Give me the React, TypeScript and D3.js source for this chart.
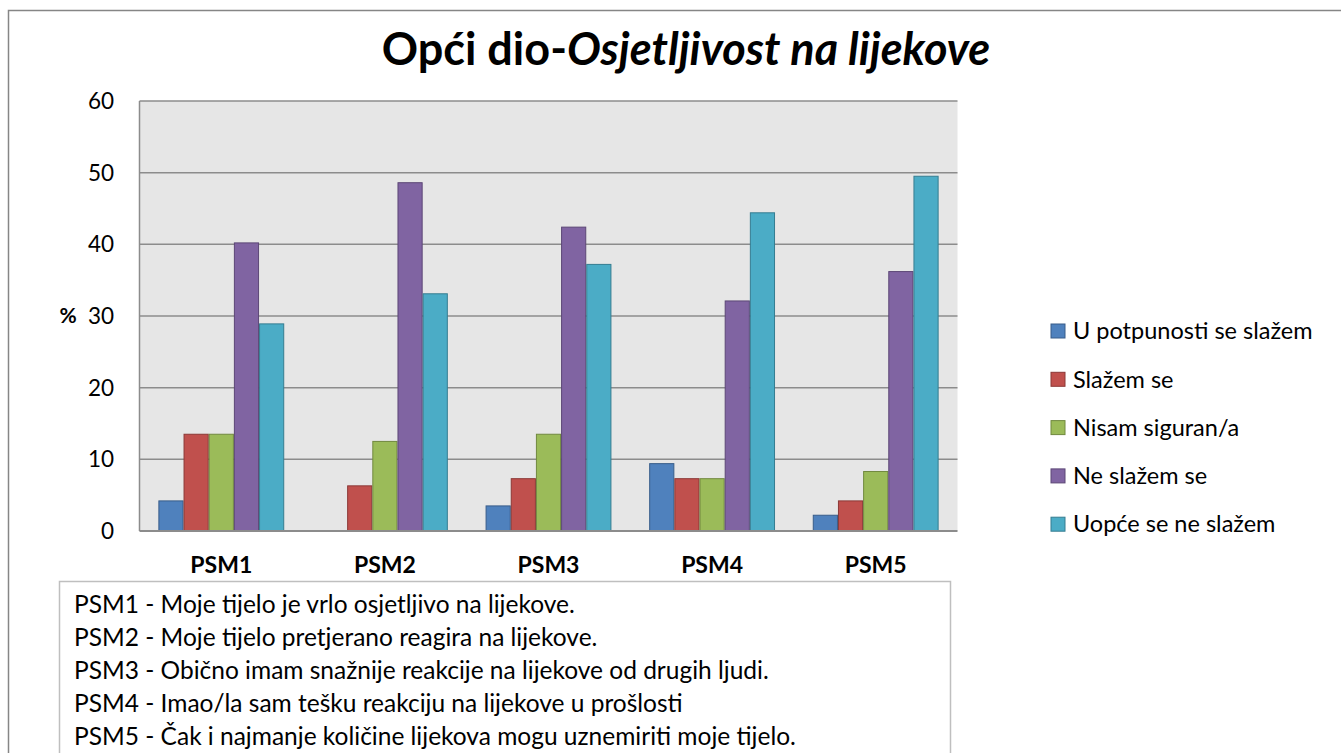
import React from "react";
import * as d3 from "d3";

const categories = ["PSM1", "PSM2", "PSM3", "PSM4", "PSM5"];
const seriesNames = [
  "U potpunosti se slažem",
  "Slažem se",
  "Nisam siguran/a",
  "Ne slažem se",
  "Uopće se ne slažem",
];
const uPotpunosti = [4.2, 0, 3.5, 9.4, 2.2];
const slazem = [13.5, 6.3, 7.3, 7.3, 4.2];
const nisam = [13.5, 12.5, 13.5, 7.3, 8.3];
const neSlazem = [40.2, 48.6, 42.4, 32.1, 36.2];
const uopce = [28.9, 33.1, 37.2, 44.4, 49.5];
const seriesValues = [uPotpunosti, slazem, nisam, neSlazem, uopce];
const yTicks = [0, 10, 20, 30, 40, 50, 60];
const descriptions = [
  "PSM1 - Moje tijelo je vrlo osjetljivo na lijekove.",
  "PSM2 - Moje tijelo pretjerano reagira na lijekove.",
  "PSM3 - Obično imam snažnije reakcije na lijekove od drugih ljudi.",
  "PSM4 - Imao/la sam tešku reakciju na lijekove u prošlosti",
  "PSM5 - Čak i najmanje količine lijekova mogu uznemiriti moje tijelo.",
];

const fills = ["#4F81BD", "#C0504D", "#9BBB59", "#8064A2", "#4BACC6"];
const strokes = ["#385D8A", "#8C3836", "#71893F", "#5C4776", "#357D91"];

const W = 1341;
const H = 753;
const plot = { left: 139.5, right: 957.5, top: 101, bottom: 531 };
const FONT = "Lato, 'Open Sans', sans-serif";

export default function App() {
  const x0 = d3
    .scaleBand<string>()
    .domain(categories)
    .range([plot.left, plot.right])
    .paddingInner(0)
    .paddingOuter(0);
  const x1 = d3
    .scaleBand<string>()
    .domain(seriesNames)
    .range([0, x0.bandwidth()])
    .paddingInner(0)
    .paddingOuter(0.75);
  const y = d3.scaleLinear().domain([0, 60]).range([plot.bottom, plot.top]);

  return (
    <svg
      width={W}
      height={H}
      style={{ position: "absolute", left: 0, top: 0, display: "block", background: "#fff" }}
      fontFamily={FONT}
    >
      <rect x={8.5} y={10.5} width={W + 20} height={H + 20} fill="#fff" stroke="#868686" strokeWidth={1.5} />
      <text x={686} y={65} textAnchor="middle" fontSize={45} fontWeight="bold" fill="#000">
        Opći dio-<tspan fontStyle="italic">Osjetljivost na lijekove</tspan>
      </text>

      <rect
        x={plot.left}
        y={plot.top}
        width={plot.right - plot.left}
        height={plot.bottom - plot.top}
        fill="#E6E6E6"
      />
      {yTicks.map((t) => (
        <g key={t}>
          {t > 0 && (
            <line x1={plot.left} x2={plot.right} y1={y(t)} y2={y(t)} stroke="#8C8C8C" strokeWidth={1.5} />
          )}
          <text x={114} y={y(t)} dy="0.35em" textAnchor="end" fontSize={22.5} fill="#000">
            {t}
          </text>
        </g>
      ))}
      <text x={68} y={y(30)} dy="0.35em" textAnchor="middle" fontSize={21} fontWeight="bold" fill="#000">
        %
      </text>

      {categories.map((c, ci) => (
        <g key={c} transform={`translate(${x0(c)},0)`}>
          {seriesNames.map((s, si) => {
            const v = seriesValues[si][ci];
            if (v <= 0) return null;
            return (
              <rect
                key={s}
                x={x1(s)! + 0.5}
                y={y(v)}
                width={x1.bandwidth() - 1}
                height={y(0) - y(v)}
                fill={fills[si]}
                stroke={strokes[si]}
                strokeWidth={1}
              />
            );
          })}
          <text
            x={x0.bandwidth() / 2}
            y={573}
            textAnchor="middle"
            fontSize={23}
            fontWeight="bold"
            fill="#000"
          >
            {c}
          </text>
        </g>
      ))}
      <line x1={plot.left} x2={plot.left} y1={plot.top} y2={plot.bottom} stroke="#8C8C8C" strokeWidth={1.5} />
      <line x1={plot.left} x2={plot.right} y1={plot.bottom} y2={plot.bottom} stroke="#8C8C8C" strokeWidth={2} />

      {seriesNames.map((s, i) => (
        <g key={s} transform={`translate(1051,${331 + i * 48.3})`}>
          <rect x={0} y={-7} width={14} height={14} fill={fills[i]} stroke={strokes[i]} strokeWidth={1} />
          <text x={22} y={0} dy="0.35em" fontSize={23.5} fill="#000">
            {s}
          </text>
        </g>
      ))}

      <rect x={59.5} y={581.5} width={891} height={200} fill="#fff" stroke="#BFBFBF" strokeWidth={1.5} />
      {descriptions.map((d, i) => (
        <text key={i} x={74} y={604 + i * 33} dy="0.35em" fontSize={24.5} fill="#000">
          {d}
        </text>
      ))}
    </svg>
  );
}
